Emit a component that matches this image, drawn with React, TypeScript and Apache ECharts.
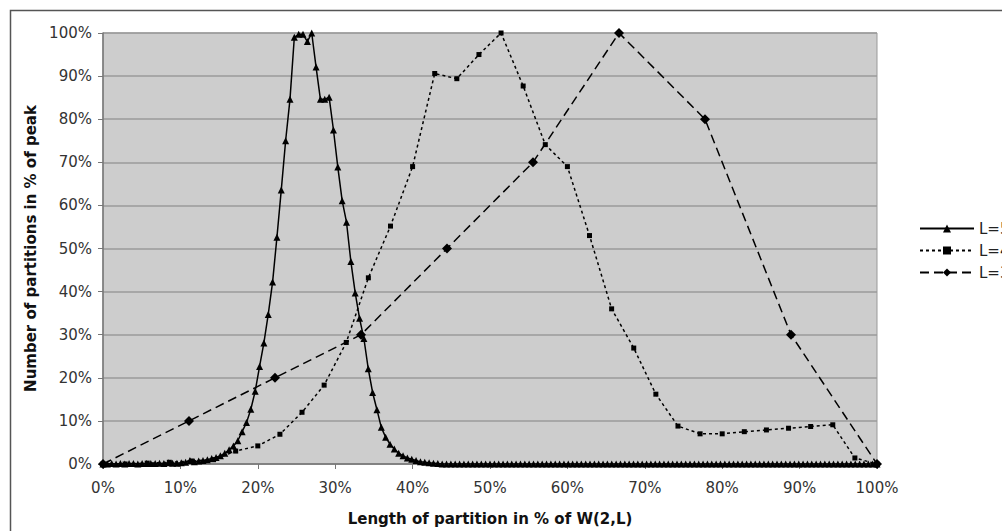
import React, { useEffect, useRef } from "react";
import * as echarts from "echarts";

// W(2,L) van der Waerden numbers: x = k / W(2,L)
const W5 = 178;
const W4 = 35;
const W3 = 9;

const seriesNames = ["L=5", "L=4", "L=3"];

// L=5: percent of peak for partition lengths k = 0..178
const L5 = [
  0, 0, 0.1, 0, 0.1, 0, 0.1, 0.1, 0, 0.1,
  0.1, 0.1, 0.1, 0.2, 0.1, 0.3, 0.2, 0.2, 0.3, 0.4,
  0.8, 0.5, 0.7, 0.8, 1.0, 1.3, 1.5, 1.9, 2.5, 3.3,
  4.2, 5.4, 7.5, 9.6, 12.7, 16.9, 22.6, 28.1, 34.7, 42.2,
  52.6, 63.6, 75.0, 84.6, 99.0, 99.7, 99.7, 98.0, 100, 92.1,
  84.6, 84.6, 85.1, 77.5, 68.9, 61.1, 56.1, 47.0, 39.7, 33.8,
  29.1, 22.1, 16.6, 12.6, 8.5, 6.2, 4.6, 3.5, 2.5, 1.9,
  1.4, 1.1, 0.8, 0.5, 0.4, 0.3, 0.2, 0.1, 0, 0,
  0, 0, 0, 0, 0, 0, 0, 0, 0, 0,
  0, 0, 0, 0, 0, 0, 0, 0, 0, 0,
  0, 0, 0, 0, 0, 0, 0, 0, 0, 0,
  0, 0, 0, 0, 0, 0, 0, 0, 0, 0,
  0, 0, 0, 0, 0, 0, 0, 0, 0, 0,
  0, 0, 0, 0, 0, 0, 0, 0, 0, 0,
  0, 0, 0, 0, 0, 0, 0, 0, 0, 0,
  0, 0, 0, 0, 0, 0, 0, 0, 0, 0,
  0, 0, 0, 0, 0, 0, 0, 0, 0, 0,
  0, 0, 0, 0, 0, 0, 0, 0, 0,
];

// L=4: k = 0..35
const L4 = [
  0, 0, 0.2, 0.4, 0.7, 1.0, 3.0, 4.2, 6.9, 12.0,
  18.3, 28.2, 43.2, 55.2, 69.0, 90.6, 89.4, 95.0, 100, 87.7,
  74.1, 69.0, 53.0, 36.0, 26.9, 16.2, 8.8, 7.0, 7.0, 7.5,
  7.9, 8.3, 8.7, 9.1, 1.4, 0,
];

// L=3: k = 0..9
const L3 = [0, 10, 20, 30, 50, 70, 100, 80, 30, 0];

const xAxisTitle = "Length of partition in % of W(2,L)";
const yAxisTitle = "Number of partitions in % of peak";

const FONT = "DejaVu Sans";

export default function App() {
  const ref = useRef<HTMLDivElement>(null);

  useEffect(() => {
    if (!ref.current) return;
    const chart = echarts.init(ref.current, null, { renderer: "svg" });
    const toPts = (vals: number[], w: number) =>
      vals.map((v, k) => [(k / w) * 100, v]);

    const option: any = {
      animation: false,
      backgroundColor: "#ffffff",
      textStyle: { fontFamily: FONT },
      graphic: [
        {
          type: "rect",
          left: 8,
          top: 8,
          shape: { width: 1100, height: 600 },
          style: { fill: "none", stroke: "#555", lineWidth: 1.5 },
          z: -1,
          silent: true,
        },
      ],
      grid: {
        left: 103,
        right: 125,
        top: 33,
        bottom: 67,
        show: true,
        backgroundColor: "#cdcdcd",
        borderColor: "#999",
        borderWidth: 1,
      },
      legend: {
        orient: "vertical",
        left: 914,
        top: 216,
        itemWidth: 54,
        itemHeight: 10,
        itemGap: 7,
        data: seriesNames,
        textStyle: { fontFamily: FONT, fontSize: 15, color: "#222" },
      },
      xAxis: {
        type: "value",
        min: 0,
        max: 100,
        interval: 10,
        name: xAxisTitle,
        nameLocation: "middle",
        nameGap: 47,
        nameTextStyle: { fontFamily: FONT, fontSize: 15, fontWeight: "bold", color: "#111" },
        axisLine: { show: true, onZero: false, lineStyle: { color: "#777", width: 1.5 } },
        axisTick: { show: true, length: 5, lineStyle: { color: "#777" } },
        axisLabel: {
          formatter: "{value}%",
          fontFamily: FONT,
          fontSize: 15,
          color: "#333",
          margin: 16,
        },
        splitLine: { show: false },
      },
      yAxis: {
        type: "value",
        min: 0,
        max: 100,
        interval: 10,
        name: yAxisTitle,
        nameLocation: "middle",
        nameGap: 62,
        nameRotate: 90,
        nameTextStyle: { fontFamily: FONT, fontSize: 15, fontWeight: "bold", color: "#111" },
        axisLine: { show: true, lineStyle: { color: "#777", width: 1.5 } },
        axisTick: { show: true, length: 5, lineStyle: { color: "#777" } },
        axisLabel: {
          formatter: "{value}%",
          fontFamily: FONT,
          fontSize: 15,
          color: "#333",
          margin: 11,
        },
        splitLine: { show: true, lineStyle: { color: "#9a9a9a", width: 1.5 } },
      },
      series: [
        {
          name: seriesNames[0],
          type: "line",
          data: toPts(L5, W5),
          symbol: "triangle",
          symbolSize: 7,
          showAllSymbol: true,
          lineStyle: { color: "#000", width: 1.5, type: "solid" },
          itemStyle: { color: "#000" },
          z: 3,
        },
        {
          name: seriesNames[1],
          type: "line",
          data: toPts(L4, W4),
          symbol: "rect",
          symbolSize: 5,
          showAllSymbol: true,
          lineStyle: { color: "#000", width: 1.5, type: [3, 3] },
          itemStyle: { color: "#000" },
          z: 2,
        },
        {
          name: seriesNames[2],
          type: "line",
          data: toPts(L3, W3),
          symbol: "diamond",
          symbolSize: 10,
          showAllSymbol: true,
          lineStyle: { color: "#000", width: 1.5, type: [9, 5] },
          itemStyle: { color: "#000" },
          z: 2,
        },
      ],
    };
    chart.setOption(option);
    return () => chart.dispose();
  }, []);

  return (
    <div
      ref={ref}
      style={{ position: "fixed", left: 0, top: 0, width: 1002, height: 531 }}
    />
  );
}
